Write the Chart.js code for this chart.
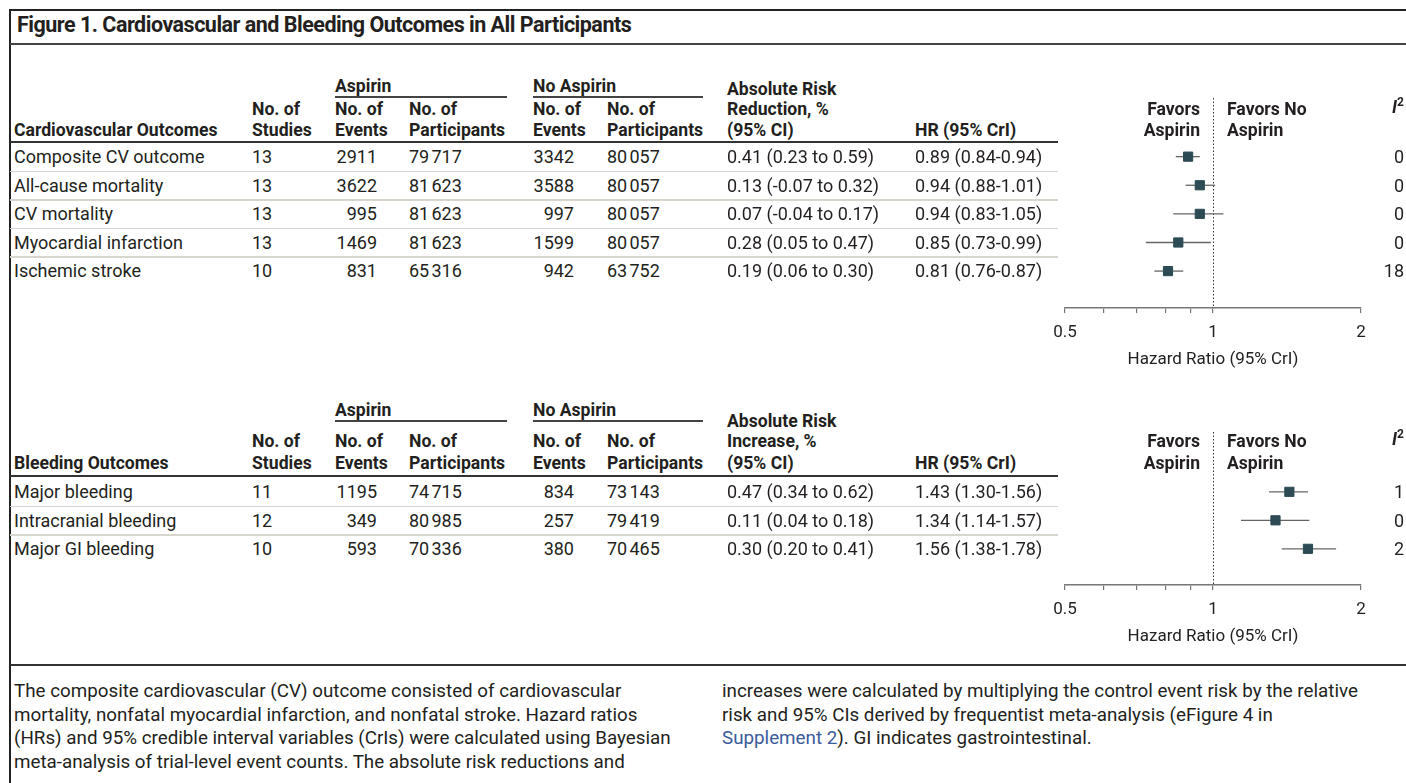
<!DOCTYPE html>
<html>
<head>
<meta charset="utf-8">
<title>Cardiovascular and Bleeding Outcomes in All Participants</title>
<script src="https://cdn.jsdelivr.net/npm/chart.js@4.4.1/dist/chart.umd.min.js"></script>
<style>
  body { margin: 0; background: #fff; }
  #fig { position: relative; width: 1406px; height: 783px; overflow: hidden;
         font-family: Roboto, "Liberation Sans", sans-serif; color: #231f20; }
  .t { position: absolute; white-space: nowrap; font-size: 18px; line-height: 20px; }
  .b { font-weight: bold; font-size: 17.6px; }
  .ln { position: absolute; }
  .cap { position: absolute; font-size: 18.8px; line-height: 23.5px; white-space: nowrap; }
  .link { color: #3a5a9c; }
  .gap { letter-spacing: -1.5px; }
  canvas { position: absolute; }
</style>
</head>
<body>
<div id="fig">
  <canvas id="cvPlot" width="350" height="280" style="left:1040px;top:90px"></canvas>
  <canvas id="bleedPlot" width="350" height="223" style="left:1040px;top:424px"></canvas>
</div>
<script>
// cardiovascular outcomes
const cvNames = ['Composite CV outcome', 'All-cause mortality', 'CV mortality', 'Myocardial infarction', 'Ischemic stroke'];
const cvStudies = [13, 13, 13, 13, 10];
const cvAspEvents = [2911, 3622, 995, 1469, 831];
const cvAspN = [79717, 81623, 81623, 81623, 65316];
const cvNoEvents = [3342, 3588, 997, 1599, 942];
const cvNoN = [80057, 80057, 80057, 80057, 63752];
const cvArr = [0.41, 0.13, 0.07, 0.28, 0.19];
const cvArrLo = [0.23, -0.07, -0.04, 0.05, 0.06];
const cvArrHi = [0.59, 0.32, 0.17, 0.47, 0.30];
const cvHr = [0.89, 0.94, 0.94, 0.85, 0.81];
const cvHrLo = [0.84, 0.88, 0.83, 0.73, 0.76];
const cvHrHi = [0.94, 1.01, 1.05, 0.99, 0.87];
const cvI2 = [0, 0, 0, 0, 18];

// bleeding outcomes
const bleedNames = ['Major bleeding', 'Intracranial bleeding', 'Major GI bleeding'];
const bleedStudies = [11, 12, 10];
const bleedAspEvents = [1195, 349, 593];
const bleedAspN = [74715, 80985, 70336];
const bleedNoEvents = [834, 257, 380];
const bleedNoN = [73143, 79419, 70465];
const bleedAri = [0.47, 0.11, 0.30];
const bleedAriLo = [0.34, 0.04, 0.20];
const bleedAriHi = [0.62, 0.18, 0.41];
const bleedHr = [1.43, 1.34, 1.56];
const bleedHrLo = [1.30, 1.14, 1.38];
const bleedHrHi = [1.56, 1.57, 1.78];
const bleedI2 = [1, 0, 2];

// hazard ratio axis
const hrTicks = [0.5, 0.6, 0.7, 0.8, 0.9, 1, 2];
const hrTickLabels = [0.5, 1, 2];

const fig = document.getElementById('fig');

function put(html, x, y, cls, right) {
  const d = document.createElement('div');
  d.className = 't ' + (cls || '');
  d.innerHTML = html;
  d.style.left = x + 'px';
  d.style.top = (y - 10) + 'px';
  if (right) d.style.transform = 'translateX(-100%)';
  fig.appendChild(d);
  return d;
}

function rule(x1, x2, y, w, color) {
  const d = document.createElement('div');
  d.className = 'ln';
  d.style.left = x1 + 'px';
  d.style.width = (x2 - x1) + 'px';
  d.style.top = (y - w / 2) + 'px';
  d.style.height = w + 'px';
  d.style.background = color;
  fig.appendChild(d);
  return d;
}

// 5-digit counts get a thin space before the last three digits
function count(n) {
  const s = String(n);
  return s.length > 4 ? s.slice(0, -3) + '<span class="gap">\u2009</span>' + s.slice(-3) : s;
}
const f2 = v => v.toFixed(2);

// frame and title
rule(9, 1406, 10, 2, '#222');
const side = rule(9, 11, 0, 2, '#222');
side.style.top = '9px';
side.style.height = '774px';
const title = put('Figure 1. Cardiovascular and Bleeding Outcomes in All Participants', 17, 25, 'b');
title.style.fontSize = '21.5px';
title.style.letterSpacing = '-0.5px';
rule(10, 1406, 44, 1.6, '#444');

const COL = { label: 14, studies: 252, aspEvH: 335, aspEv: 377, aspN: 409, noEvH: 533, noEv: 574, noN: 607,
              ar: 727, hr: 915, favL: 1200, favR: 1227, i2: 1404, end: 1058 };

function section(L, s) {
  // grouped column headers
  put('Aspirin', COL.aspEvH, L.groupY, 'b');
  rule(COL.aspEvH, 507, L.ruleY, 1.5, '#444');
  put('No Aspirin', COL.noEvH, L.groupY, 'b');
  rule(COL.noEvH, 703, L.ruleY, 1.5, '#444');

  put('No. of', COL.studies, L.h1Y, 'b');
  put('Studies', COL.studies, L.h2Y, 'b');
  put('No. of', COL.aspEvH, L.h1Y, 'b');
  put('Events', COL.aspEvH, L.h2Y, 'b');
  put('No. of', COL.aspN, L.h1Y, 'b');
  put('Participants', COL.aspN, L.h2Y, 'b');
  put('No. of', COL.noEvH, L.h1Y, 'b');
  put('Events', COL.noEvH, L.h2Y, 'b');
  put('No. of', COL.noN, L.h1Y, 'b');
  put('Participants', COL.noN, L.h2Y, 'b');
  put('Absolute Risk', COL.ar, L.h1Y - 20, 'b');
  put(s.arHead, COL.ar, L.h1Y, 'b');
  put('(95% CI)', COL.ar, L.h2Y, 'b');
  put('HR (95% CrI)', COL.hr, L.h2Y, 'b');
  put(s.head, COL.label, L.h2Y, 'b');
  put('Favors', COL.favL, L.h1Y, 'b', true);
  put('Aspirin', COL.favL, L.h2Y, 'b', true);
  put('Favors No', COL.favR, L.h1Y, 'b');
  put('Aspirin', COL.favR, L.h2Y, 'b');
  put('<i>I</i><span style="font-size:12px;position:relative;top:-7px">2</span>', COL.i2, L.h1Y - 2, 'b', true);
  rule(10, COL.end, L.headRuleY, 2, '#333');

  s.names.forEach((name, i) => {
    const y = L.rowY0 + i * L.pitch;
    put(name, COL.label, y);
    put(String(s.studies[i]), COL.studies, y);
    put(count(s.aspEv[i]), COL.aspEv, y, '', true);
    put(count(s.aspN[i]), COL.aspN, y);
    put(count(s.noEv[i]), COL.noEv, y, '', true);
    put(count(s.noN[i]), COL.noN, y);
    put(`${f2(s.ar[i])} (${f2(s.arLo[i])} to ${f2(s.arHi[i])})`, COL.ar, y);
    put(`${f2(s.hr[i])} (${f2(s.hrLo[i])}-${f2(s.hrHi[i])})`, COL.hr, y);
    put(String(s.i2[i]), COL.i2, y, '', true);
    if (i < s.names.length - 1) rule(10, COL.end, y + L.pitch / 2, 1.5, '#d6d6ce');
  });
}

section({ groupY: 86, ruleY: 97, h1Y: 109, h2Y: 130, headRuleY: 141.5, rowY0: 157, pitch: 28.6 }, {
  head: 'Cardiovascular Outcomes', arHead: 'Reduction, %', names: cvNames, studies: cvStudies,
  aspEv: cvAspEvents, aspN: cvAspN, noEv: cvNoEvents, noN: cvNoN,
  ar: cvArr, arLo: cvArrLo, arHi: cvArrHi, hr: cvHr, hrLo: cvHrLo, hrHi: cvHrHi, i2: cvI2
});
section({ groupY: 410, ruleY: 421, h1Y: 441, h2Y: 463, headRuleY: 476, rowY0: 492, pitch: 28.5 }, {
  head: 'Bleeding Outcomes', arHead: 'Increase, %', names: bleedNames, studies: bleedStudies,
  aspEv: bleedAspEvents, aspN: bleedAspN, noEv: bleedNoEvents, noN: bleedNoN,
  ar: bleedAri, arLo: bleedAriLo, arHi: bleedAriHi, hr: bleedHr, hrLo: bleedHrLo, hrHi: bleedHrHi, i2: bleedI2
});

// footnote
rule(10, 1406, 665, 2, '#333');
const capL = document.createElement('div');
capL.className = 'cap';
capL.style.left = '14px';
capL.style.top = '680px';
capL.innerHTML = 'The composite cardiovascular (CV) outcome consisted of cardiovascular<br>' +
  'mortality, nonfatal myocardial infarction, and nonfatal stroke. Hazard ratios<br>' +
  '(HRs) and 95% credible interval variables (CrIs) were calculated using Bayesian<br>' +
  'meta-analysis of trial-level event counts. The absolute risk reductions and';
fig.appendChild(capL);
const capR = document.createElement('div');
capR.className = 'cap';
capR.style.left = '722px';
capR.style.top = '680px';
capR.innerHTML = 'increases were calculated by multiplying the control event risk by the relative<br>' +
  'risk and 95% CIs derived by frequentist meta-analysis (eFigure 4 in<br>' +
  '<span class="link">Supplement 2</span>). GI indicates gastrointestinal.';
fig.appendChild(capR);

// forest plots
Chart.defaults.font.family = 'Roboto';

const nullLine = {
  id: 'nullLine',
  beforeDatasetsDraw(chart) {
    const { ctx, chartArea } = chart;
    const x = Math.round(chart.scales.x.getPixelForValue(1)) + 0.5;
    ctx.save();
    ctx.strokeStyle = '#333';
    ctx.lineWidth = 1;
    ctx.setLineDash([1.5, 2]);
    ctx.beginPath();
    ctx.moveTo(x, chartArea.top);
    ctx.lineTo(x, chartArea.bottom);
    ctx.stroke();
    ctx.restore();
  }
};

function forest(id, hr, lo, hi, yMin, yMax) {
  const ciSets = hr.map((_, i) => ({
    type: 'line',
    data: [{ x: lo[i], y: i }, { x: hi[i], y: i }],
    showLine: true,
    borderColor: '#666',
    borderWidth: 1.3,
    pointRadius: 0,
    order: 2
  }));
  const marks = {
    data: hr.map((v, i) => ({ x: v, y: i })),
    pointStyle: 'rect',
    pointRadius: 6.5,
    backgroundColor: '#2d4b54',
    borderColor: '#2d4b54',
    borderWidth: 1,
    order: 1
  };
  return new Chart(document.getElementById(id), {
    type: 'scatter',
    data: { datasets: [...ciSets, marks] },
    options: {
      responsive: false,
      animation: false,
      devicePixelRatio: 1,
      layout: { padding: { left: 25, right: 29, top: 8, bottom: 0 } },
      plugins: { legend: { display: false }, tooltip: { enabled: false } },
      scales: {
        x: {
          type: 'logarithmic',
          min: 0.5,
          max: 2,
          afterBuildTicks: s => { s.ticks = hrTicks.map(v => ({ value: v })); },
          afterFit: s => { s.height = 62; },
          ticks: {
            autoSkip: false,
            maxRotation: 0,
            padding: 10,
            color: '#222',
            font: { size: 17 },
            callback: v => hrTickLabels.includes(v) ? String(v) : ''
          },
          grid: { drawOnChartArea: false, tickLength: 5, color: '#777', lineWidth: 1.2 },
          border: { color: '#777', width: 1.5 },
          title: { display: true, text: 'Hazard Ratio (95% CrI)', color: '#222', font: { size: 17 }, padding: 0 }
        },
        y: { type: 'linear', reverse: true, min: yMin, max: yMax, display: false }
      }
    },
    plugins: [nullLine]
  });
}

forest('cvPlot', cvHr, cvHrLo, cvHrHi, -2.05, 5.29);
forest('bleedPlot', bleedHr, bleedHrLo, bleedHrHi, -2.1, 3.27);
</script>
</body>
</html>
